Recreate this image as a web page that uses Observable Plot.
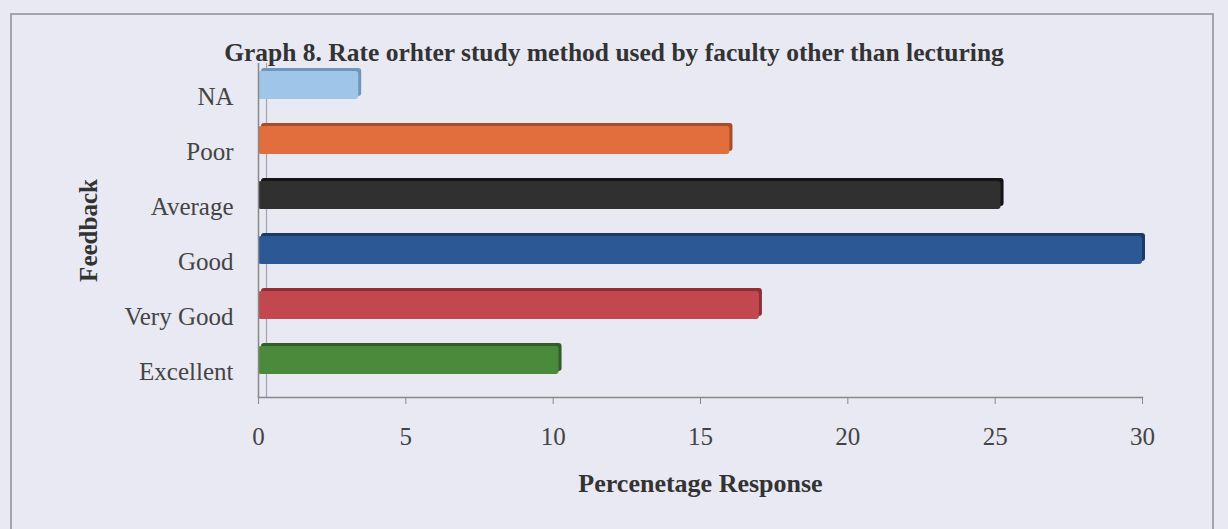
<!DOCTYPE html>
<html>
<head>
<meta charset="utf-8">
<script src="https://cdn.jsdelivr.net/npm/d3@7"></script>
<script src="https://cdn.jsdelivr.net/npm/@observablehq/plot@0.6"></script>
<style>
  html, body { margin: 0; padding: 0; background: #e9e9f3; width: 1228px; height: 529px; overflow: hidden; }
  #frame { position: absolute; left: 10px; top: 13px; width: 1204px; height: 530px; border: 2px solid #a3a3ae; border-bottom: none; box-sizing: border-box; }
  #title { position: absolute; left: 0; width: 1228px; top: 38px; text-align: center; font-family: "Liberation Serif", "DejaVu Serif", serif; font-weight: bold; font-size: 25.5px; line-height: 30px; color: #333; }
  #chart { position: absolute; left: 0; top: 0; }
</style>
</head>
<body>
<div id="frame"></div>
<div id="chart"></div>
<div id="title">Graph 8. Rate orhter study method used by faculty other than lecturing</div>
<script>
const categories = ["NA", "Poor", "Average", "Good", "Very Good", "Excellent"];
const values = [3.4, 16.0, 25.2, 30.0, 17.0, 10.2];
const faceColors = ["#9fc5e8", "#e26d3d", "#303030", "#2c5896", "#c2474f", "#4b8a3b"];
const sideColors = ["#6f97bd", "#a94b26", "#151515", "#1a3a69", "#8e2f36", "#2f5f25"];
const xTicks = [0, 5, 10, 15, 20, 25, 30];

const data = categories.map((c, i) => ({category: c, value: values[i], face: faceColors[i], side: sideColors[i]}));

const chart = Plot.plot({
  width: 1228,
  height: 529,
  marginLeft: 258,
  marginRight: 86,
  marginTop: 63,
  marginBottom: 132,
  style: {fontFamily: "'Liberation Serif', 'DejaVu Serif', serif", fontSize: "25px", color: "#444", background: "transparent"},
  x: {domain: [0, 30], ticks: xTicks, label: null},
  y: {domain: categories, paddingInner: 0.5, paddingOuter: 0.25, range: [55.5, 389], label: null},
  marks: [
    // back wall line (3D effect)
    Plot.ruleX([0], {stroke: "#a3a3ae", strokeWidth: 1.2, dx: 8}),
    // 3D depth of bars
    Plot.barX(data, {y: "category", x: "value", fill: "side", dx: 3, dy: -3, rx: 3}),
    Plot.barX(data, {y: "category", x: "value", fill: "face", rx: 3}),
    Plot.axisX({ticks: xTicks, tickSize: 7, tickPadding: 23, stroke: "#888", fill: "#444", fontSize: 25, label: null}),
    Plot.axisY({tickSize: 0, tickPadding: 25, dy: 11, fill: "#444", fontSize: 25, label: null}),
    Plot.ruleX([0], {stroke: "#888", strokeWidth: 1.5}),
    Plot.frame({anchor: "bottom", stroke: "#888", strokeWidth: 1.5}),
    Plot.text(["Percenetage Response"], {frameAnchor: "bottom", dy: 94, textAnchor: "middle", fontWeight: "bold", fontSize: 26, fill: "#333"}),
    Plot.text(["Feedback"], {frameAnchor: "left", dx: -170, textAnchor: "middle", rotate: -90, fontWeight: "bold", fontSize: 25, fill: "#333"})
  ]
});
document.getElementById("chart").appendChild(chart);
</script>
</body>
</html>
